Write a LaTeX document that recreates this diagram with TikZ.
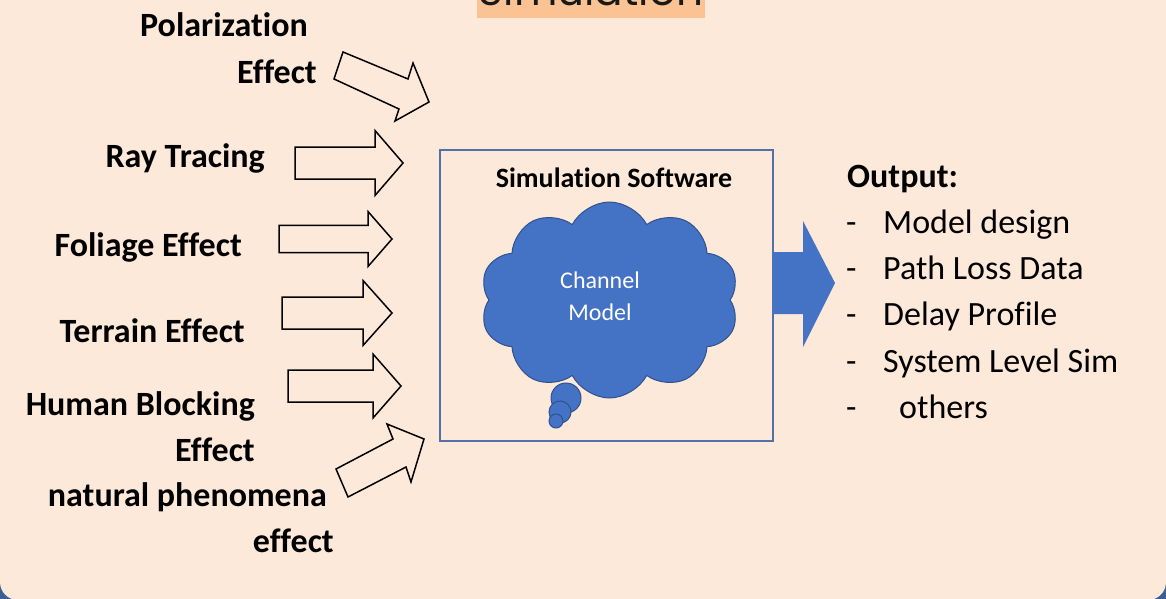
\documentclass[tikz,border=0pt]{standalone}
\usepackage{fontspec}
\setmainfont{Carlito}[Ligatures={NoCommon,NoRequired,NoContextual}]
\newfontfamily\titlefont{Poppins}
\usetikzlibrary{shapes.symbols}
\definecolor{bgpeach}{HTML}{FDE9DA}
\definecolor{bgblue}{HTML}{3A5F94}
\definecolor{hilite}{HTML}{FBC393}
\definecolor{cloudfill}{HTML}{4472C4}
\definecolor{cloudline}{HTML}{2F528F}
\definecolor{boxline}{HTML}{5470A8}
\tikzset{
  blk/.style={draw=black, line width=1.5pt, line join=miter, fill=bgpeach},
  lbl/.style={inner sep=0pt, font=\fontsize{34}{40}\selectfont\bfseries, text=black, anchor=base east},
  outt/.style={inner sep=0pt, font=\fontsize{34}{40}\selectfont, text=black, anchor=base west},
  bubble/.style={draw=cloudline, fill=cloudfill, line width=1pt},
}
\newcommand{\hblockarrow}[6]{%
  \draw[blk] (#1,#4-#5) -- (#2,#4-#5) -- (#2,#4-#6) -- (#3,#4) -- (#2,#4+#6) -- (#2,#4+#5) -- (#1,#4+#5) -- cycle;}
\begin{document}
\begin{tikzpicture}[x=1pt,y=-1pt]
\useasboundingbox (0,0) rectangle (1166,599);
% background
\fill[bgblue] (0,0) rectangle (1166,599);
\fill[bgpeach, rounded corners=18pt] (0,-40) rectangle (1166,600);
% title (cut off at the top)
\fill[hilite] (477,-5) rectangle (705,18);
\node[inner sep=0pt, anchor=base, text=black!90] (title) at (591,6) {\titlefont\resizebox{224pt}{!}{Simulation}};
% left labels
\node[lbl] (pol) at (308,37) {Polarization};
\node[lbl] (pol2) at (317,84) {Effect};
\node[lbl] (ray) at (265,167) {Ray Tracing};
\node[lbl] (fol) at (242,256) {Foliage Effect};
\node[lbl] (ter) at (245,342) {Terrain Effect};
\node[lbl] (hum) at (255,415) {Human Blocking};
\node[lbl] (hum2) at (255,461) {Effect};
\node[lbl] (nat) at (327,506) {natural phenomena};
\node[lbl] (nat2) at (334,552) {effect};
% block arrows
\draw[blk] (343,52) -- (408,79) -- (413,63) -- (429,102) -- (395,121) -- (399,109) -- (334,79) -- cycle;
\hblockarrow{295}{375}{403}{163}{16}{32.5}
\hblockarrow{279}{368}{392}{239}{13.7}{27.5}
\hblockarrow{282}{363}{392}{313}{16}{32.5}
\hblockarrow{288}{373}{401}{386}{16}{32}
\draw[blk] (348,497) -- (336,469) -- (393,439) -- (387,424) -- (424,439) -- (411,482) -- (406,467) -- cycle;
% simulation software box
\node[draw=boxline, line width=1.5pt, minimum width=333pt, minimum height=291pt, inner sep=0pt] (sw) at (606.5,295.5) {};
\node[inner sep=0pt, anchor=base, font=\fontsize{28}{32}\selectfont\bfseries] (swlbl) at (614,187) {Simulation Software};
% cloud
\node[cloud, cloud puffs=10, cloud puff arc=125, aspect=1.32, draw=cloudline, fill=cloudfill, line width=1pt, minimum width=259pt, minimum height=196pt, inner sep=0pt] (cm) at (609.5,300) {};
\node[bubble, circle, minimum size=30pt, inner sep=0pt] (b1) at (566,398) {};
\node[bubble, circle, minimum size=22pt, inner sep=0pt] (b2) at (560,412) {};
\node[bubble, circle, minimum size=14pt, inner sep=0pt] (b3) at (556,421) {};
\node[inner sep=0pt, anchor=base, align=center, text=white, font=\fontsize{24}{32}\selectfont] (cmlbl) at (600,320) {Channel\\Model};
% output arrow
\fill[cloudfill] (773,252) -- (803,252) -- (803,221) -- (835,283) -- (803,347) -- (803,314) -- (773,314) -- cycle;
% outputs
\node[inner sep=0pt, anchor=base west, font=\fontsize{34}{40}\selectfont\bfseries] (out) at (847,187) {Output:};
\node[outt] (d1) at (846,233) {-};
\node[outt] (o1) at (883,233) {Model design};
\node[outt] (d2) at (846,279.5) {-};
\node[outt] (o2) at (883,279.5) {Path Loss Data};
\node[outt] (d3) at (846,325.7) {-};
\node[outt] (o3) at (883,325.7) {Delay Profile};
\node[outt] (d4) at (846,372) {-};
\node[outt] (o4) at (883,372) {System Level Sim};
\node[outt] (d5) at (846,418) {-};
\node[outt] (o5) at (899,418) {others};
\end{tikzpicture}
\end{document}
